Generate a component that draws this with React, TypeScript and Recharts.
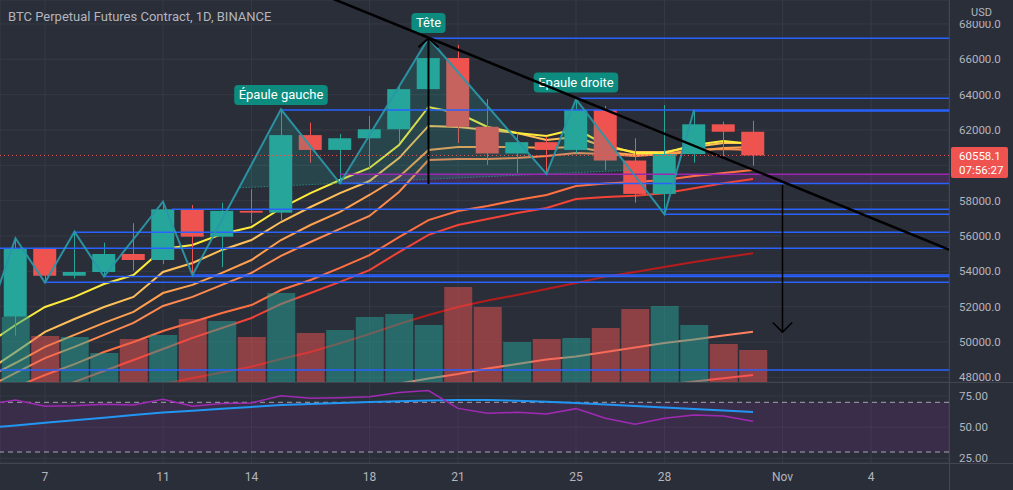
import React from "react";
import {
  ComposedChart,
  Bar,
  Line,
  Area,
  Scatter,
  XAxis,
  YAxis,
  CartesianGrid,
  ReferenceLine,
  ReferenceArea,
} from "recharts";

// ---------------- data ----------------
// daily candles, October (day of month; Nov 1 = 32)
const candleDays = [6, 7, 8, 9, 10, 11, 12, 13, 14, 15, 16, 17, 18, 19, 20, 21, 22, 23, 24, 25, 26, 27, 28, 29, 30, 31];
const opens = [51430, 55300, 53750, 53960, 54980, 54640, 57510, 55960, 57420, 57320, 61710, 60870, 61530, 62040, 64310, 66070, 62180, 60670, 61310, 60870, 63130, 60270, 58380, 60640, 62320, 61900];
const highs = [55870, 55330, 56240, 55620, 56720, 57940, 57750, 57880, 58640, 63170, 62410, 61770, 62790, 64490, 67190, 66810, 63750, 61810, 61620, 63740, 63360, 61530, 63410, 63130, 62470, 62520];
const lows = [50360, 53360, 53600, 53700, 54040, 54410, 53790, 54230, 56720, 56900, 60150, 58980, 59830, 61280, 63480, 61260, 60020, 59550, 59510, 60680, 59730, 57880, 57230, 60150, 60490, 59980];
const closes = [55300, 53750, 53960, 54980, 54640, 57510, 55960, 57420, 57320, 61710, 60870, 61530, 62040, 64310, 66070, 62180, 60670, 61310, 60870, 63130, 60270, 58380, 60640, 62320, 61900, 60558.1];
const volumesK = [520, 368, 360, 232, 344, 376, 504, 488, 360, 712, 392, 416, 520, 544, 456, 760, 600, 320, 344, 352, 432, 584, 608, 456, 304, 256];

// moving-average ribbon
const emaDays = [5, 6, 7, 8, 9, 10, 11, 12, 13, 14, 15, 16, 17, 18, 19, 20, 21, 22, 23, 24, 25, 26, 27, 28, 29, 30, 31];
const ema1 = [49830, 50960, 51980, 52550, 53280, 53790, 55260, 55490, 56110, 56510, 57580, 58430, 59170, 59850, 61150, 63300, 62960, 62170, 61830, 61660, 62060, 61150, 60700, 60700, 61150, 61380, 61210];
const ema2 = [48300, 49430, 50570, 51300, 51980, 52550, 53960, 54470, 55210, 55770, 56790, 57640, 58430, 59110, 60410, 62230, 62170, 62000, 61830, 61430, 61600, 61040, 60750, 60750, 61040, 61260, 61260];
const ema3 = [47960, 48810, 49720, 50400, 51080, 51700, 52770, 53230, 53910, 54640, 55770, 56620, 57360, 58320, 59340, 60870, 61040, 61040, 61040, 60980, 61040, 60750, 60580, 60580, 60810, 60980, 61040];
const ema4 = [47400, 48250, 49090, 49720, 50400, 51080, 52040, 52550, 53230, 53910, 54870, 55660, 56400, 57130, 58490, 60300, 60360, 60360, 60410, 60530, 60700, 60640, 60530, 60640, 60870, 60920, 60870];
const ema5 = [46830, 47450, 48130, 48750, 49430, 50000, 50620, 51130, 51640, 52090, 52940, 53510, 54190, 54920, 55940, 56900, 57410, 57700, 58040, 58320, 58830, 58970, 59060, 59170, 59400, 59570, 59730];
const ema6 = [45700, 46380, 47060, 47740, 48360, 48980, 49600, 50230, 50790, 51360, 52150, 52770, 53400, 54070, 55090, 56060, 56620, 56960, 57300, 57580, 58090, 58210, 58280, 58420, 58700, 58980, 59230];
const ema7Days = [10, 11, 12, 13, 14, 15, 16, 17, 18, 19, 20, 21, 22, 23, 24, 25, 26, 27, 28, 29, 30, 31];
const ema7 = [47170, 47620, 47960, 48270, 48600, 49040, 49430, 49930, 50450, 51020, 51530, 51980, 52350, 52660, 53000, 53340, 53700, 53960, 54240, 54530, 54780, 55020];
const ema8Days = [18, 19, 20, 21, 22, 23, 24, 25, 26, 27, 28, 29, 30, 31];
const ema8 = [47400, 47650, 47930, 48190, 48500, 48750, 49010, 49180, 49430, 49690, 49940, 50140, 50370, 50580];
const ema9Days = [27, 28, 29, 30, 31];
const ema9 = [47340, 47570, 47760, 47950, 48130];

// zigzag pivots
const zigzagDays = [5, 6, 7, 8, 9, 11, 12, 15, 17, 20, 24, 25, 28, 29];
const zigzagPrices = [51000, 55870, 53360, 56240, 53700, 57940, 53790, 63170, 58980, 67190, 59510, 63740, 57230, 63130];

// head & shoulders drawing
const hsDays = [13.6, 15, 17, 20, 24, 25, 26.85];
const hsNeck = [58725, 58832, 58982, 59207, 59508, 59583, 59722];
const hsTop = [58725, 63170, 58982, 67189, 59508, 63736, 59722];

// horizontal rays: start day and level
const rayDays = [20, 25, 15, 29, 17, 11.3, 28, 8, 5, 12, 9, 7, 5];
const rayLevels = [67190, 63790, 63130, 63080, 58970, 57510, 57230, 56210, 55300, 53790, 53700, 53380, 48410];
const purpleRayDay = 17;
const purpleRayLevel = 59490;

// black drawings
const trendDays = [16.5, 38];
const trendPrices = [69600, 54990];
const headLineDays = [20, 20];
const headLinePrices = [58940, 67190];
const headArrowDays = [19.66, 20, 20.34];
const headArrowPrices = [66680, 67190, 66680];
const targetDays = [32, 32];
const targetPrices = [58885, 50560];
const targetArrowDays = [31.67, 32, 32.33];
const targetArrowPrices = [51100, 50560, 51100];

// pattern labels
const labelTexts = ["Épaule gauche", "Tête", "Epaule droite"];
const labelDays = [15, 20, 25];
const labelPrices = [63980, 68055, 64690];

// RSI pane
const rsiDays = emaDays;
const rsiValues = [68.2, 71.8, 66.8, 67.2, 68.4, 67.9, 72.4, 66.8, 69.0, 69.5, 75.3, 73.2, 73.7, 74.5, 77.8, 79.4, 65.1, 61.1, 61.9, 60.6, 64.9, 57.1, 52.3, 57.1, 59.8, 59.0, 54.7];
const rsiMaValues = [49.4, 51.4, 53.5, 55.5, 57.6, 59.7, 61.7, 63.3, 64.8, 66.3, 67.8, 68.6, 69.4, 70.2, 70.9, 71.5, 71.9, 71.8, 71.3, 70.5, 69.5, 68.3, 67.0, 65.8, 64.6, 63.4, 62.2];

// axes
const xTicks = [7, 11, 14, 18, 21, 25, 28, 32, 35];
const xTickLabels = ["7", "11", "14", "18", "21", "25", "28", "Nov", "4"];
const priceTicks = [48000, 50000, 52000, 54000, 56000, 58000, 60000, 62000, 64000, 66000, 68000];
const rsiTicks = [25, 50, 75];
const lastPrice = 60558.1;
const countdown = "07:56:27";
const title = "BTC Perpetual Futures Contract, 1D, BINANCE";
const currency = "USD";

// ---------------- layout / style ----------------
const W = 1013;
const PRICE_PLOT_H = 382;
const PRICE_SVG_PAD = 8;
const RSI_H = 108;
const RSI_PLOT_H = 81;
const AXIS_W = 64;
const X_DOMAIN: [number, number] = [5.475, 37.644];
const PRICE_DOMAIN: [number, number] = [47735, 69356];
const VOL_DOMAIN: [number, number] = [0, 3056];
const RSI_DOMAIN: [number, number] = [21.15, 86.34];

const BG = "#2a2e39";
const GRID = "#363a45";
const SEP = "#434651";
const TEXT = "#b2b5be";
const UP = "#26a69a";
const DOWN = "#ef5350";
const RAY = "#2962ff";
const PURPLE = "#9c27b0";
const ZZ = "#2a96a8";
const LABEL_BG = "#0c8b7e";
const FONT = "Roboto, 'Noto Sans', sans-serif";
const emaColors = ["#ffeb3b", "#ffc05a", "#ffa04f", "#ff8a50", "#ff7043", "#f44336", "#b71c1c", "#ff8060", "#ff5252"];

// ---------------- helpers ----------------
const pts = (xs: number[], ys: number[]) => xs.map((x, i) => ({ x, y: ys[i] }));
const candles = candleDays.map((x, i) => ({ x, o: opens[i], h: highs[i], l: lows[i], c: closes[i], v: volumesK[i] }));
const emaSeries = [
  pts(emaDays, ema1),
  pts(emaDays, ema2),
  pts(emaDays, ema3),
  pts(emaDays, ema4),
  pts(emaDays, ema5),
  pts(emaDays, ema6),
  pts(ema7Days, ema7),
  pts(ema8Days, ema8),
  pts(ema9Days, ema9),
];
const hsData = hsDays.map((x, i) => ({ x, lo: hsNeck[i], hi: hsTop[i] }));
const rays = rayDays.map((d, i) => [
  { x: d, y: rayLevels[i] },
  { x: X_DOMAIN[1] + 1, y: rayLevels[i] },
]);
const purpleRay = [
  { x: purpleRayDay, y: purpleRayLevel },
  { x: X_DOMAIN[1] + 1, y: purpleRayLevel },
];
const labelsData = labelTexts.map((t, i) => ({ x: labelDays[i], y: labelPrices[i], text: t }));

let measureCtx: CanvasRenderingContext2D | null = null;
function textWidth(s: string, font: string): number {
  if (typeof document === "undefined") return s.length * 7;
  if (!measureCtx) measureCtx = document.createElement("canvas").getContext("2d");
  if (!measureCtx) return s.length * 7;
  measureCtx.font = font;
  return measureCtx.measureText(s).width;
}

const Candle = (props: any) => {
  const { x, y, width, height, payload } = props;
  if (payload == null || x == null || y == null) return null;
  const { o, h, l, c } = payload;
  const top = Math.min(y, y + height);
  const hh = Math.abs(height);
  const k = h === l ? 0 : hh / (h - l);
  const yO = top + (h - o) * k;
  const yC = top + (h - c) * k;
  const bodyTop = Math.min(yO, yC);
  const bodyH = Math.max(Math.abs(yO - yC), 1);
  const color = c >= o ? UP : DOWN;
  const cx = Math.round(x + width / 2) + 0.5;
  return (
    <g>
      <line x1={cx} x2={cx} y1={top} y2={top + hh} stroke={color} strokeWidth={1} />
      <rect x={x} y={bodyTop} width={width} height={bodyH} fill={color} />
    </g>
  );
};

const VolumeBar = (props: any) => {
  const { x, y, width, height, payload } = props;
  if (payload == null) return null;
  const color = payload.c >= payload.o ? UP : DOWN;
  return <rect x={x} y={Math.min(y, y + height)} width={width} height={Math.abs(height)} fill={color} fillOpacity={0.5} />;
};

const PatternLabel = (props: any) => {
  const { cx, cy, payload } = props;
  if (cx == null || cy == null || !payload) return null;
  const font = `13px ${FONT}`;
  const w = textWidth(payload.text, font) + 9;
  const h = 20;
  return (
    <g>
      <rect x={cx - w / 2} y={cy - h / 2} width={w} height={h} rx={4} ry={4} fill={LABEL_BG} />
      <text x={cx} y={cy + 4.5} textAnchor="middle" fill="#ffffff" fontSize={13} fontFamily={FONT}>
        {payload.text}
      </text>
    </g>
  );
};

const PriceTag = (props: any) => {
  const vb = props.viewBox || {};
  const right = (vb.x ?? 0) + (vb.width ?? 0);
  const ly = vb.y ?? 0;
  return (
    <g>
      <rect x={right + 2} y={ly - 8.5} width={57} height={31} rx={2} fill={DOWN} />
      <text x={right + 10} y={ly + 5} fill="#ffffff" fontSize={11.5} fontFamily={FONT}>
        {lastPrice.toFixed(1)}
      </text>
      <text x={right + 10} y={ly + 18.5} fill="#ffffff" fontSize={11.5} fontFamily={FONT}>
        {countdown}
      </text>
    </g>
  );
};

// price-scale tick: the tick hidden behind the last-price tag is not drawn
const PriceTick = (props: any) => {
  const { x, y, payload } = props;
  const v = payload?.value;
  if (v == null || Math.abs(v - lastPrice) < 1000) return null;
  return (
    <text x={x} y={y} dy="0.355em" textAnchor="start" fill={TEXT} fontSize={11.5} fontFamily={FONT}>
      {Number(v).toFixed(1)}
    </text>
  );
};

const tickStyle = { fill: TEXT, fontSize: 11.5, fontFamily: FONT };

export default function App() {
  const ax = { xAxisId: "p", yAxisId: "price" } as const;
  return (
    <div style={{ position: "fixed", left: 0, top: 0, width: W, height: 490, background: BG, overflow: "hidden", fontFamily: FONT }}>
      <div style={{ position: "absolute", left: 0, top: 0 }}>
        <ComposedChart
          width={W}
          height={PRICE_PLOT_H + PRICE_SVG_PAD}
          data={candles}
          margin={{ top: 0, right: 0, bottom: PRICE_SVG_PAD, left: 0 }}
        >
          <CartesianGrid xAxisId="p" yAxisId="price" stroke={GRID} strokeWidth={1} />
          <YAxis
            yAxisId="price"
            orientation="right"
            width={AXIS_W}
            type="number"
            domain={PRICE_DOMAIN}
            allowDataOverflow
            ticks={priceTicks}
            interval={0}
            axisLine={false}
            tickLine={false}
            tickMargin={4}
            tick={<PriceTick />}
          />
          <YAxis yAxisId="vol" hide type="number" domain={VOL_DOMAIN} allowDataOverflow />
          <XAxis xAxisId="p" dataKey="x" type="number" domain={X_DOMAIN} allowDataOverflow ticks={xTicks} hide />
          <XAxis xAxisId="v" dataKey="x" type="number" domain={X_DOMAIN} allowDataOverflow hide />
          <XAxis xAxisId="c" dataKey="x" type="number" domain={X_DOMAIN} allowDataOverflow hide />

          <ReferenceArea
            {...ax}
            x1={purpleRayDay}
            x2={X_DOMAIN[1]}
            y1={rayLevels[4]}
            y2={purpleRayLevel}
            fill={PURPLE}
            fillOpacity={0.22}
            stroke="none"
            ifOverflow="hidden"
            zIndex={50}
          />

          {emaSeries
            .map((d, i) => (
              <Line
                key={"ema" + i}
                {...ax}
                data={d}
                dataKey="y"
                type="linear"
                stroke={emaColors[i]}
                strokeWidth={2}
                dot={false}
                activeDot={false}
                isAnimationActive={false}
                zIndex={110 - i}
              />
            ))
            .reverse()}

          <Bar
            xAxisId="v"
            yAxisId="vol"
            dataKey="v"
            barSize={28}
            shape={<VolumeBar />}
            isAnimationActive={false}
            zIndex={150}
          />
          <Bar
            xAxisId="c"
            yAxisId="price"
            dataKey={(d: any) => [d.l, d.h]}
            barSize={23}
            shape={<Candle />}
            isAnimationActive={false}
            zIndex={200}
          />

          <Area
            {...ax}
            data={hsData}
            dataKey={(d: any) => [d.lo, d.hi]}
            type="linear"
            stroke="none"
            fill={UP}
            fillOpacity={0.2}
            dot={false}
            activeDot={false}
            isAnimationActive={false}
            zIndex={250}
          />
          <Line
            {...ax}
            data={pts(hsDays, hsNeck)}
            dataKey="y"
            stroke={UP}
            strokeWidth={1}
            strokeDasharray="1 2"
            dot={false}
            activeDot={false}
            isAnimationActive={false}
            zIndex={260}
          />

          <Line
            {...ax}
            data={purpleRay}
            dataKey="y"
            stroke={PURPLE}
            strokeWidth={1.5}
            dot={false}
            activeDot={false}
            isAnimationActive={false}
            zIndex={300}
          />
          {rays.map((d, i) => (
            <Line
              key={"ray" + i}
              {...ax}
              data={d}
              dataKey="y"
              stroke={RAY}
              strokeWidth={1.5}
              dot={false}
              activeDot={false}
              isAnimationActive={false}
              zIndex={301 + i}
            />
          ))}

          <Line
            {...ax}
            data={pts(zigzagDays, zigzagPrices)}
            dataKey="y"
            stroke={ZZ}
            strokeWidth={2}
            strokeOpacity={0.95}
            dot={false}
            activeDot={false}
            isAnimationActive={false}
            zIndex={350}
          />

          <Scatter {...ax} data={labelsData} dataKey="y" shape={<PatternLabel />} isAnimationActive={false} zIndex={550} />

          <Line {...ax} data={pts(headLineDays, headLinePrices)} dataKey="y" stroke="#000000" strokeWidth={2} dot={false} activeDot={false} isAnimationActive={false} zIndex={600} />
          <Line {...ax} data={pts(headArrowDays, headArrowPrices)} dataKey="y" stroke="#000000" strokeWidth={2} dot={false} activeDot={false} isAnimationActive={false} zIndex={601} />
          <Line {...ax} data={pts(targetDays, targetPrices)} dataKey="y" stroke="#000000" strokeWidth={1.5} dot={false} activeDot={false} isAnimationActive={false} zIndex={602} />
          <Line {...ax} data={pts(targetArrowDays, targetArrowPrices)} dataKey="y" stroke="#000000" strokeWidth={1.5} dot={false} activeDot={false} isAnimationActive={false} zIndex={603} />
          <Line {...ax} data={pts(trendDays, trendPrices)} dataKey="y" stroke="#000000" strokeWidth={2.5} dot={false} activeDot={false} isAnimationActive={false} zIndex={604} />

          <ReferenceLine
            {...ax}
            y={lastPrice}
            stroke={DOWN}
            strokeWidth={1}
            strokeDasharray="1 3"
            label={<PriceTag />}
            zIndex={700}
          />
        </ComposedChart>
      </div>

      <div style={{ position: "absolute", left: 0, top: PRICE_PLOT_H }}>
        <ComposedChart width={W} height={RSI_H} margin={{ top: 0, right: 0, bottom: 0, left: 0 }}>
          <CartesianGrid stroke={GRID} strokeWidth={1} />
          <XAxis
            dataKey="x"
            type="number"
            domain={X_DOMAIN}
            allowDataOverflow
            ticks={xTicks}
            interval={0}
            tickFormatter={(v: number) => xTickLabels[xTicks.indexOf(v)] ?? String(v)}
            height={RSI_H - RSI_PLOT_H}
            axisLine={false}
            tickLine={false}
            tickMargin={3}
            tick={{ ...tickStyle, fontSize: 12 }}
          />
          <YAxis
            orientation="right"
            width={AXIS_W}
            type="number"
            domain={RSI_DOMAIN}
            allowDataOverflow
            ticks={rsiTicks}
            interval={0}
            tickFormatter={(v: number) => v.toFixed(2)}
            axisLine={false}
            tickLine={false}
            tickMargin={4}
            tick={tickStyle}
          />
          <ReferenceArea y1={30} y2={70} fill={PURPLE} fillOpacity={0.14} stroke="none" ifOverflow="hidden" zIndex={50} />
          <ReferenceLine y={70} stroke="#a3a6af" strokeWidth={1} strokeDasharray="5 4" zIndex={60} />
          <ReferenceLine y={30} stroke="#a3a6af" strokeWidth={1} strokeDasharray="5 4" zIndex={60} />
          <Line data={pts(rsiDays, rsiMaValues)} dataKey="y" stroke="#2196f3" strokeWidth={2} dot={false} activeDot={false} isAnimationActive={false} zIndex={100} />
          <Line data={pts(rsiDays, rsiValues)} dataKey="y" stroke="#a12ab5" strokeWidth={1.5} dot={false} activeDot={false} isAnimationActive={false} zIndex={110} />
        </ComposedChart>
      </div>

      {/* pane separators */}
      <div style={{ position: "absolute", left: 0, top: PRICE_PLOT_H, width: W, height: 1, background: SEP }} />
      <div style={{ position: "absolute", left: 0, top: PRICE_PLOT_H + RSI_PLOT_H, width: W, height: 1, background: SEP }} />
      <div style={{ position: "absolute", left: W - AXIS_W, top: 0, width: 1, height: 490, background: SEP }} />

      {/* title & currency */}
      <div style={{ position: "absolute", left: 8, top: 9, color: TEXT, fontSize: 13, fontFamily: FONT, whiteSpace: "nowrap", lineHeight: "normal" }}>
        {title}
      </div>
      <div
        style={{
          position: "absolute",
          left: 967,
          top: 4,
          width: 29,
          height: 17,
          background: BG,
          color: TEXT,
          fontSize: 11,
          fontFamily: FONT,
          textAlign: "center",
          lineHeight: "17px",
          borderRadius: 3,
        }}
      >
        {currency}
      </div>
    </div>
  );
}
